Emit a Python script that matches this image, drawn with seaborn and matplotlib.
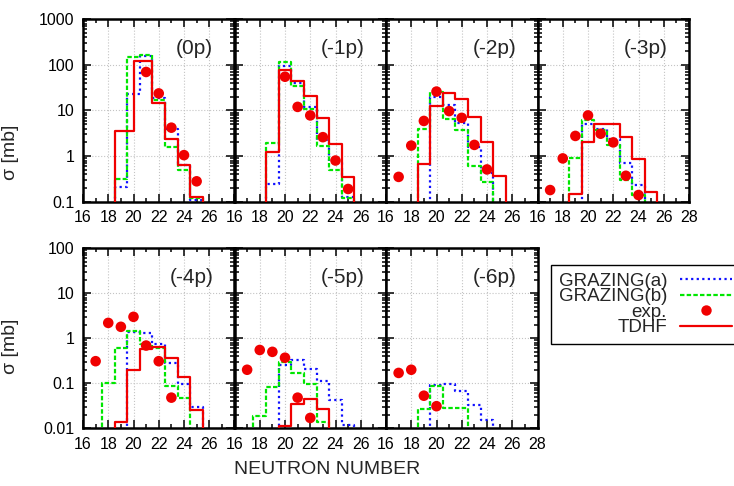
import matplotlib
matplotlib.use("Agg")
import matplotlib.pyplot as plt
from matplotlib import ticker
from matplotlib.lines import Line2D
import seaborn as sns

# panel order: top row (0p)..(-3p), bottom row (-4p)..(-6p)
panel_labels = ["(0p)", "(-1p)", "(-2p)", "(-3p)", "(-4p)", "(-5p)", "(-6p)"]

# GRAZING(a): bin edges (neutron number) and cross sections [mb]
grz_a_edges = [
    [18.5, 19.5, 20.5, 21.5, 22.5, 23.5, 24.5, 25.5],
    [18.5, 19.5, 20.5, 21.5, 22.5, 23.5, 24.5, 25.5],
    [19.5, 20.5, 21.5, 22.5, 23.5, 24.5],
    [19.5, 20.5, 21.5, 22.5, 23.5, 24.5],
    [19.5, 20.5, 21.5, 22.5, 23.5, 24.5, 25.5],
    [19.5, 20.5, 21.5, 22.5, 23.5, 24.5, 25.5],
    [19.5, 20.5, 21.5, 22.5, 23.5, 24.5],
]
grz_a_sig = [
    [0.21, 23, 158, 19, 4.0, 0.63, 0.11],
    [0.25, 97, 40, 12, 2.2, 0.74, 0.13],
    [20, 13.5, 5.4, 1.56, 0.42],
    [5.1, 4.0, 2.4, 0.7, 0.23],
    [1.36, 1.29, 0.74, 0.28, 0.095, 0.029],
    [0.25, 0.33, 0.21, 0.11, 0.043, 0.012],
    [0.09, 0.095, 0.067, 0.033, 0.015],
]

# GRAZING(b)
grz_b_edges = [
    [18.5, 19.5, 20.5, 21.5, 22.5, 23.5, 24.5, 25.5],
    [18.5, 19.5, 20.5, 21.5, 22.5, 23.5, 24.5, 25.5],
    [18.5, 19.5, 20.5, 21.5, 22.5, 23.5, 24.5],
    [18.5, 19.5, 20.5, 21.5, 22.5, 23.5, 24.5],
    [17.5, 18.5, 19.5, 20.5, 21.5, 22.5, 23.5, 24.5],
    [17.5, 18.5, 19.5, 20.5, 21.5, 22.5, 23.5],
    [18.5, 19.5, 20.5, 21.5, 22.5],
]
grz_b_sig = [
    [0.32, 146, 161, 17, 1.6, 0.5, 0.12],
    [1.9, 118, 35, 11, 1.7, 0.5, 0.12],
    [4.0, 26, 6.6, 3.8, 0.61, 0.27],
    [0.92, 6.1, 3.8, 1.73, 0.3, 0.14],
    [0.1, 0.6, 1.46, 0.75, 0.6, 0.085, 0.046],
    [0.019, 0.084, 0.30, 0.17, 0.095, 0.014],
    [0.027, 0.085, 0.028, 0.028],
]

# TDHF
tdhf_edges = [
    [18.5, 20.0, 21.5, 22.5, 23.5, 24.5, 25.5],
    [18.5, 19.5, 20.5, 21.5, 22.5, 23.5, 24.5, 25.5],
    [18.5, 19.5, 20.5, 21.5, 22.5, 23.5, 24.5, 25.5],
    [18.5, 19.5, 20.5, 21.5, 22.5, 23.5, 24.5, 25.5],
    [18.5, 19.5, 20.5, 21.5, 22.5, 23.5, 24.5, 25.5],
    [19.5, 20.5, 21.5, 22.5, 23.5],
    [],
]
tdhf_sig = [
    [3.6, 121, 14.3, 2.4, 0.65, 0.13],
    [1.22, 79, 45, 20.6, 6.9, 1.86, 0.34],
    [0.68, 12.8, 24, 17.8, 7.2, 2.0, 0.37],
    [0.15, 2.05, 5.1, 5.0, 2.6, 0.86, 0.16],
    [0.0136, 0.2, 0.58, 0.65, 0.37, 0.136, 0.026],
    [0.011, 0.034, 0.045, 0.027],
    [],
]

# experiment
exp_n = [
    [21, 22, 23, 24, 25],
    [20, 21, 22, 23, 24, 25],
    [17, 18, 19, 20, 21, 22, 23, 24],
    [17, 18, 19, 20, 21, 22, 23, 24],
    [17, 18, 19, 20, 21, 22, 23],
    [17, 18, 19, 20, 21, 22],
    [17, 18, 19, 20],
]
exp_sig = [
    [70, 23.7, 4.2, 1.05, 0.28],
    [55, 12, 7.8, 2.6, 0.8, 0.19],
    [0.35, 1.7, 5.9, 26, 9.7, 6.9, 1.76, 0.51],
    [0.18, 0.89, 2.77, 7.8, 3.1, 2.0, 0.37, 0.14],
    [0.31, 2.2, 1.8, 3.0, 0.69, 0.31, 0.048],
    [0.2, 0.55, 0.5, 0.37, 0.048, 0.017],
    [0.17, 0.2, 0.053, 0.031],
]

top_yticks = [0.1, 1, 10, 100, 1000]
bot_yticks = [0.01, 0.1, 1, 10, 100]
xticks = [16, 18, 20, 22, 24, 26, 28]

RED = "#f00000"
GREEN = "#00e600"
BLUE = "#1010ff"
DOT = (0, (1, 1.5))
DASH = (0, (2, 1))
FLOOR = 1e-4

sns.set_style("ticks")
plt.rcParams["font.family"] = ["Liberation Sans", "DejaVu Sans"]


def draw_hist(ax, edges, sig, color, ls, z):
    if len(sig) == 0:
        return
    # steps-post with drop lines at both ends
    x = [edges[0]] + list(edges)
    y = [FLOOR] + list(sig) + [FLOOR]
    sns.lineplot(x=x, y=y, ax=ax, estimator=None, sort=False,
                 drawstyle="steps-post", color=color, linestyle=ls,
                 linewidth=1.6, zorder=z)


W, H = 734, 486
fig = plt.figure(figsize=(W / 100, H / 100), dpi=100)

col_left = [83, 234.5, 386, 537.5]
col_w = 151.5
rows = [(19.3, 201.7), (248.3, 428.3)]

axes = []
for i in range(7):
    r, c = divmod(i, 4)
    top, bot = rows[r]
    ax = fig.add_axes([col_left[c] / W, 1 - bot / H, col_w / W, (bot - top) / H])
    axes.append(ax)

    draw_hist(ax, grz_a_edges[i], grz_a_sig[i], BLUE, DOT, 2)
    draw_hist(ax, grz_b_edges[i], grz_b_sig[i], GREEN, DASH, 2.1)
    draw_hist(ax, tdhf_edges[i], tdhf_sig[i], RED, "-", 3)
    sns.scatterplot(x=exp_n[i], y=exp_sig[i], ax=ax, color=RED, s=58,
                    edgecolor="none", zorder=4, legend=False)

    ax.set_yscale("log")
    yt = top_yticks if r == 0 else bot_yticks
    ax.set_ylim(yt[0], yt[-1])
    ax.set_yticks(yt)
    ax.set_yticklabels([f"{v:g}" for v in yt])
    ax.yaxis.set_minor_locator(ticker.LogLocator(base=10, subs=range(2, 10), numticks=20))
    ax.yaxis.set_minor_formatter(ticker.NullFormatter())

    ax.set_xlim(16, 28)
    ax.set_xticks(xticks)
    last = (c == 3) or (i == 6)
    ax.set_xticklabels([str(v) if (v != 28 or last) else "" for v in xticks])
    ax.xaxis.set_minor_locator(ticker.MultipleLocator(1))

    ax.grid(True, which="major", color="#c4c4c4", linestyle=":", linewidth=0.8)
    ax.set_axisbelow(True)
    ax.tick_params(which="both", direction="in", top=True, right=True,
                   labelsize=11.5, colors="black", width=1.1)
    ax.tick_params(which="major", length=5.5, pad=6)
    ax.tick_params(which="minor", length=3)
    for sp in ax.spines.values():
        sp.set_linewidth(1.8)
        sp.set_color("black")

    ax.set_xlabel("")
    if c == 0:
        ax.set_ylabel("σ [mb]", fontsize=14)
        ax.yaxis.set_label_coords(-0.42, 0.27 if r == 0 else 0.457)
    else:
        ax.set_ylabel("")
        ax.tick_params(labelleft=False)

    ax.text(0.86, 0.84, panel_labels[i], transform=ax.transAxes,
            ha="right", va="center", fontsize=15)

fig.text(327 / W, 1 - 469 / H, "NEUTRON NUMBER", ha="center", va="center", fontsize=14)

handles = [
    Line2D([], [], color=BLUE, linestyle=DOT, linewidth=1.6),
    Line2D([], [], color=GREEN, linestyle=DASH, linewidth=1.6),
    Line2D([], [], color=RED, marker="o", linestyle="none", markersize=7.5, markeredgewidth=0),
    Line2D([], [], color=RED, linestyle="-", linewidth=1.6),
]
leg = fig.legend(handles, ["GRAZING(a)", "GRAZING(b)", "exp.", "TDHF"],
                 loc="upper left", bbox_to_anchor=(551 / W, 1 - 265 / H),
                 bbox_transform=fig.transFigure, markerfirst=False,
                 fontsize=13.5, labelspacing=-0.08, handlelength=2.75,
                 handletextpad=0.7, borderpad=0.4, borderaxespad=0,
                 fancybox=False, framealpha=1, edgecolor="black", numpoints=1)
leg.get_frame().set_linewidth(1.0)

fig.savefig("out.png", dpi=100)
